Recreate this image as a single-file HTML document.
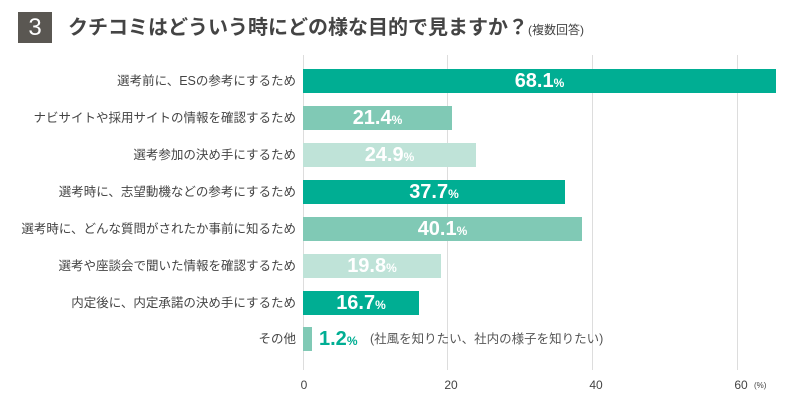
<!DOCTYPE html>
<html><head><meta charset="utf-8"><style>
body{margin:0;width:801px;height:403px;background:#fff;position:relative;overflow:hidden;font-family:"Liberation Sans","Noto Sans CJK JP",sans-serif;}
.a{position:absolute}
.g{position:absolute;top:55px;height:315px;width:1px;background:#ddd}
.lab{position:absolute;right:505px;font-size:12.5px;color:#444;white-space:nowrap;height:24px;line-height:24px}
.bar{position:absolute;left:303px;height:24px;color:#fff;font-weight:bold;font-size:20px;line-height:24px;text-align:center;white-space:nowrap}
.bar small,.v small{font-size:12px}
.t{position:absolute;top:378px;font-size:12px;color:#444;transform:translateX(-50%)}
</style></head><body>
<div class="a" style="left:18px;top:12px;width:34px;height:31px;background:#5a5752;color:#fff;font-size:24px;line-height:31px;text-align:center">3</div>
<div class="a" style="left:68px;top:14px;font-size:20px;color:#444;font-weight:bold;white-space:nowrap;line-height:28px">クチコミはどういう時にどの様な目的で見ますか？<span style="font-size:12px;font-weight:normal">(複数回答)</span></div>
<div class="g" style="left:303px"></div><div class="g" style="left:447px"></div><div class="g" style="left:592px"></div><div class="g" style="left:737px"></div>
<div class="lab" style="top:69px">選考前に、ESの参考にするため</div>
<div class="lab" style="top:106px">ナビサイトや採用サイトの情報を確認するため</div>
<div class="lab" style="top:143px">選考参加の決め手にするため</div>
<div class="lab" style="top:180px">選考時に、志望動機などの参考にするため</div>
<div class="lab" style="top:217px">選考時に、どんな質問がされたか事前に知るため</div>
<div class="lab" style="top:254px">選考や座談会で聞いた情報を確認するため</div>
<div class="lab" style="top:291px">内定後に、内定承諾の決め手にするため</div>
<div class="lab" style="top:327px">その他</div>
<div class="bar" style="top:69px;width:473px;background:#00ae93">68.1<small>%</small></div>
<div class="bar" style="top:106px;width:149px;background:#80c9b5">21.4<small>%</small></div>
<div class="bar" style="top:143px;width:173px;background:#bfe3d8">24.9<small>%</small></div>
<div class="bar" style="top:180px;width:262px;background:#00ae93">37.7<small>%</small></div>
<div class="bar" style="top:217px;width:279px;background:#80c9b5">40.1<small>%</small></div>
<div class="bar" style="top:254px;width:138px;background:#bfe3d8">19.8<small>%</small></div>
<div class="bar" style="top:291px;width:116px;background:#00ae93">16.7<small>%</small></div>
<div class="bar" style="top:327px;width:9px;background:#80c9b5"></div>
<div class="a v" style="left:319px;top:327px;line-height:24px;font-size:20px;font-weight:bold;color:#00ae93;white-space:nowrap">1.2<small>%</small></div>
<div class="a" style="left:370px;top:327px;line-height:24px;font-size:12.5px;color:#555;white-space:nowrap">(社風を知りたい、社内の様子を知りたい)</div>
<div class="t" style="left:304px">0</div><div class="t" style="left:451px">20</div><div class="t" style="left:596px">40</div><div class="t" style="left:741px">60</div>
<div class="a" style="left:754px;top:381px;font-size:8px;color:#444">(%)</div>
</body></html>
